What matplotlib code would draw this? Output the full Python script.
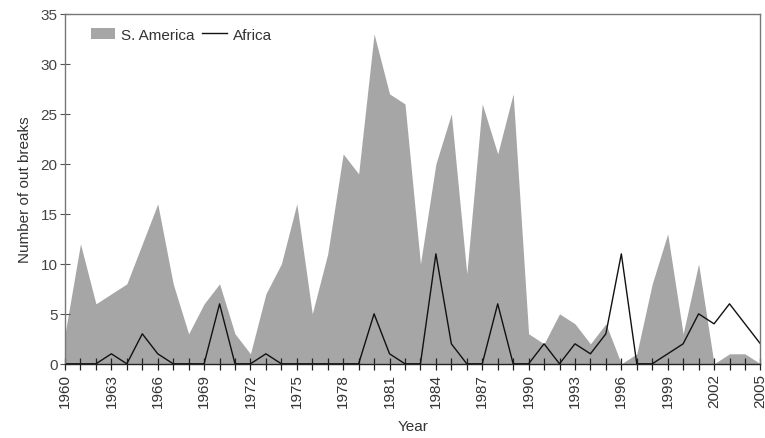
import matplotlib

matplotlib.use("Agg")

import matplotlib.pyplot as plt
from matplotlib.lines import Line2D
from matplotlib.patches import Patch

years = list(range(1960, 2006))

# Outbreak counts per year
s_america = [3, 12, 6, 7, 8, 12, 16, 8, 3, 6,
             8, 3, 1, 7, 10, 16, 5, 11, 21, 19,
             33, 27, 26, 10, 20, 25, 9, 26, 21, 27,
             3, 2, 5, 4, 2, 4, 0, 1, 8, 13,
             3, 10, 0, 1, 1, 0]
africa = [0, 0, 0, 1, 0, 3, 1, 0, 0, 0,
          6, 0, 0, 1, 0, 0, 0, 0, 0, 0,
          5, 1, 0, 0, 11, 2, 0, 0, 6, 0,
          0, 2, 0, 2, 1, 3, 11, 0, 0, 1,
          2, 5, 4, 6, 4, 2]

year_ticks = list(range(1960, 2006, 3))

plt.rcParams["font.family"] = ["Liberation Sans", "DejaVu Sans"]
plt.rcParams["font.size"] = 11

fig = plt.figure(figsize=(7.65, 4.39), dpi=100)
ax = fig.add_axes([0.085, 0.169, 0.909, 0.797])

ax.fill_between(years, s_america, 0, color="#a6a6a6", linewidth=0)
ax.plot(years, africa, color="#111111", linewidth=1.0)

ax.set_xlim(1960, 2005)
ax.set_ylim(0, 35)
ax.set_xticks(years, minor=True)
ax.set_xticks(year_ticks)
ax.set_xticklabels([str(y) for y in year_ticks], rotation=90, color="#333333")
ax.set_yticks(range(0, 36, 5))
ax.tick_params(axis="y", direction="inout", length=7, width=0.8,
               color="#555555", labelcolor="#444444", pad=2)
ax.tick_params(axis="x", which="both", direction="inout", length=9,
               width=0.9, color="#222222", labelcolor="#333333", pad=2)

for side in ("left", "top", "right"):
    ax.spines[side].set_color("#777777")
    ax.spines[side].set_linewidth(1.0)
ax.spines["bottom"].set_color("#222222")
ax.spines["bottom"].set_linewidth(1.0)

ax.set_xlabel("Year", color="#333333", labelpad=9)
ax.set_ylabel("Number of out breaks", color="#333333", labelpad=6)

handles = [Patch(facecolor="#a6a6a6", edgecolor="none"),
           Line2D([0], [0], color="#111111", linewidth=1.0)]
ax.legend(handles, ["S. America", "Africa"], loc="upper left", ncol=2,
          frameon=False, handlelength=1.6, handletextpad=0.4,
          columnspacing=0.5, bbox_to_anchor=(0.017, 1.0),
          labelcolor="#333333")

fig.savefig("out.png", dpi=100)
